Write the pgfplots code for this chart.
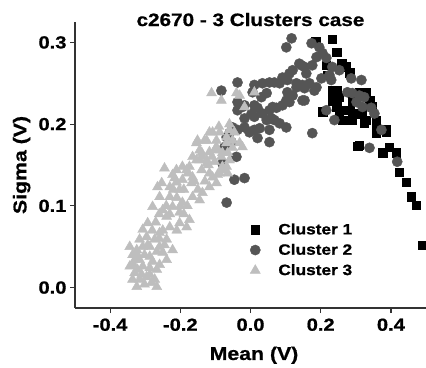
\documentclass[border=0pt]{standalone}
\usepackage{fontspec}
\setmainfont{Liberation Sans}[FakeStretch=1.15, BoldFeatures={FakeBold=0.8}]
\usepackage{pgfplots}
\pgfplotsset{compat=1.18}
\definecolor{cB}{HTML}{555555}
\definecolor{cC}{HTML}{BEBEBE}
\definecolor{axc}{HTML}{333333}
\begin{document}
\begin{tikzpicture}
\begin{axis}[name=ax, scale only axis, width=351bp, height=286bp,
  xmin=-0.5, xmax=0.5, ymin=-0.025, ymax=0.325,
  axis lines=left, axis line style={-, line width=1.2pt, axc},
  tick align=outside, major tick length=5bp, tick style={line width=1.2pt, axc},
  xtick={-0.4,-0.2,0,0.2,0.4}, ytick={0,0.1,0.2,0.3},
  /pgf/number format/assume math mode=true,
  /pgf/number format/.cd, fixed, fixed zerofill, precision=1, /pgfplots/.cd,
  ticklabel style={font=\bfseries\fontsize{17.5bp}{20bp}\selectfont},
  xticklabel style={yshift=-2bp},
  title={c2670 - 3 Clusters case},
  title style={font=\bfseries\fontsize{18bp}{21bp}\selectfont, at={(axis description cs:0.5,1)}, anchor=base, yshift=-10bp},
  xlabel={Mean (V)}, ylabel={Sigma (V)},
  xlabel style={font=\bfseries\fontsize{18.5bp}{22bp}\selectfont, at={(axis description cs:0.51,-0.165)}, anchor=center},
  ylabel style={font=\bfseries\fontsize{18.5bp}{22bp}\selectfont, at={(axis description cs:-0.152,0.5)}, anchor=center, rotate=0},
  legend style={draw=none, fill=none, at={(axis description cs:0.49,0.31)}, anchor=north west, font=\bfseries\fontsize{15bp}{18bp}\selectfont, row sep=4bp, /tikz/every odd column/.append style={column sep=16bp}},
  legend cell align=left,
]
\addplot[only marks, mark=square*, mark size=4.3bp, black] coordinates {
(0.185,0.301) (0.233,0.304) (0.245,0.288) (0.259,0.274) (0.273,0.270) (0.282,0.263) (0.216,0.272) (0.219,0.260) (0.233,0.241) (0.245,0.241) (0.253,0.233) (0.233,0.229) (0.245,0.221) (0.262,0.217) (0.282,0.217) (0.290,0.213) (0.316,0.213) (0.330,0.239) (0.339,0.229) (0.347,0.221) (0.330,0.205) (0.253,0.209) (0.205,0.215) (0.290,0.205) (0.358,0.205) (0.358,0.196) (0.387,0.193) (0.310,0.174) (0.376,0.165) (0.395,0.172) (0.415,0.165) (0.424,0.141) (0.444,0.129) (0.458,0.111) (0.472,0.101) (0.489,0.052) (0.310,0.239) (0.290,0.229) (0.262,0.205) (0.358,0.189) (0.305,0.173) (0.324,0.202) (0.387,0.190)
};
\addlegendentry{Cluster 1}
\addplot[only marks, mark=*, mark size=5.1bp, cB, mark options={draw=cB, fill=cB}] coordinates {
(0.117,0.305) (0.102,0.294) (0.174,0.299) (0.196,0.294) (0.205,0.287) (0.216,0.281) (0.188,0.282) (0.176,0.272) (0.154,0.270) (0.139,0.274) (0.159,0.262) (0.120,0.266) (0.111,0.262) (0.091,0.257) (0.105,0.254) (0.083,0.250) (0.068,0.251) (0.054,0.251) (0.034,0.250) (0.131,0.250) (0.148,0.248) (0.168,0.250) (0.188,0.245) (0.202,0.256) (0.225,0.260) (0.230,0.254) (0.253,0.266) (0.233,0.270) (0.287,0.256) (0.316,0.254) (0.276,0.239) (0.290,0.238) (0.310,0.235) (0.324,0.233) (0.302,0.227) (0.319,0.221) (0.344,0.220) (0.353,0.213) (0.373,0.193) (0.339,0.171) (0.418,0.154) (0.216,0.217) (0.239,0.205) (0.176,0.189) (0.148,0.229) (0.105,0.239) (0.102,0.229) (0.120,0.235) (0.091,0.223) (0.074,0.220) (0.054,0.217) (0.034,0.213) (0.020,0.220) (0.011,0.209) (0.046,0.205) (0.068,0.205) (0.083,0.201) (0.102,0.196) (0.054,0.193) (0.026,0.195) (0.011,0.193) (0.054,0.178) (0.020,0.183) (-0.003,0.190) (-0.017,0.196) (-0.017,0.207) (0.003,0.213) (-0.037,0.227) (-0.037,0.251) (0.011,0.248) (-0.083,0.241) (-0.037,0.217) (-0.023,0.221) (0.006,0.239) (0.011,0.223) (0.031,0.233) (0.046,0.238) (-0.017,0.223) (-0.037,0.193) (-0.051,0.196) (-0.060,0.189) (-0.068,0.184) (-0.054,0.178) (-0.074,0.172) (-0.080,0.152) (-0.046,0.132) (-0.017,0.134) (-0.068,0.104) (0.145,0.272) (0.131,0.245) (0.154,0.244) (0.182,0.241) (0.063,0.221) (0.111,0.227) (0.154,0.229) (0.060,0.207) (-0.040,0.160)
};
\addlegendentry{Cluster 2}
\addplot[only marks, mark=triangle*, mark size=5.8bp, cC, mark options={draw=cC, fill=cC}] coordinates {
(-0.111,0.238) (-0.083,0.229) (-0.040,0.238) (-0.031,0.235) (0.011,0.239) (-0.017,0.221) (-0.046,0.190) (-0.031,0.177) (-0.051,0.171) (-0.023,0.172) (-0.051,0.180) (-0.108,0.190) (-0.117,0.190) (-0.088,0.190) (-0.060,0.193) (-0.068,0.184) (-0.068,0.177) (-0.097,0.180) (-0.097,0.172) (-0.125,0.180) (-0.151,0.180) (-0.154,0.177) (-0.131,0.180) (-0.145,0.168) (-0.139,0.165) (-0.117,0.166) (-0.094,0.168) (-0.080,0.165) (-0.083,0.160) (-0.065,0.165) (-0.060,0.156) (-0.080,0.148) (-0.068,0.148) (-0.080,0.144) (-0.102,0.154) (-0.125,0.156) (-0.125,0.152) (-0.145,0.156) (-0.154,0.156) (-0.165,0.160) (-0.137,0.160) (-0.139,0.144) (-0.117,0.140) (-0.094,0.138) (-0.065,0.140) (-0.088,0.140) (-0.108,0.135) (-0.097,0.128) (-0.117,0.123) (-0.165,0.135) (-0.182,0.144) (-0.194,0.148) (-0.174,0.148) (-0.211,0.144) (-0.245,0.146) (-0.222,0.138) (-0.216,0.134) (-0.179,0.140) (-0.194,0.132) (-0.211,0.129) (-0.168,0.128) (-0.202,0.120) (-0.230,0.123) (-0.253,0.128) (-0.265,0.123) (-0.137,0.116) (-0.145,0.107) (-0.165,0.111) (-0.194,0.104) (-0.222,0.099) (-0.202,0.092) (-0.174,0.083) (-0.182,0.074) (-0.202,0.079) (-0.230,0.074) (-0.230,0.111) (-0.259,0.111) (-0.279,0.099) (-0.250,0.095) (-0.239,0.087) (-0.259,0.067) (-0.293,0.079) (-0.307,0.071) (-0.296,0.062) (-0.316,0.059) (-0.239,0.059) (-0.259,0.050) (-0.287,0.050) (-0.287,0.038) (-0.324,0.046) (-0.307,0.050) (-0.344,0.050) (-0.222,0.046) (-0.250,0.043) (-0.239,0.034) (-0.267,0.022) (-0.296,0.013) (-0.307,0.026) (-0.316,0.034) (-0.330,0.034) (-0.330,0.018) (-0.344,0.026) (-0.324,0.001) (-0.267,0.001) (-0.336,0.010) (-0.316,0.010) (-0.302,0.004) (-0.287,0.016) (-0.273,0.010) (-0.259,0.028) (-0.279,0.032) (-0.302,0.040) (-0.322,0.022) (-0.310,0.016) (-0.287,0.024) (-0.336,0.040) (-0.267,0.044) (-0.245,0.052) (-0.273,0.059) (-0.293,0.052) (-0.322,0.040) (-0.333,0.028) (-0.282,0.006)
(-0.280,0.070) (-0.270,0.080) (-0.260,0.090) (-0.250,0.070) (-0.240,0.100) (-0.220,0.120) (-0.210,0.110) (-0.190,0.120) (-0.180,0.100) (-0.200,0.100) (-0.230,0.090) (-0.260,0.060) (-0.210,0.070) (-0.190,0.090) (-0.160,0.130) (-0.150,0.120) (-0.130,0.130) (-0.120,0.150) (-0.110,0.160) (-0.100,0.170) (-0.090,0.197) (-0.060,0.200)
};
\addlegendentry{Cluster 3}
\end{axis}
\pgfresetboundingbox
\path[use as bounding box] ([shift={(-75bp,-59bp)}]ax.south west) rectangle ([shift={(0bp,22bp)}]ax.north east);
\end{tikzpicture}
\end{document}
